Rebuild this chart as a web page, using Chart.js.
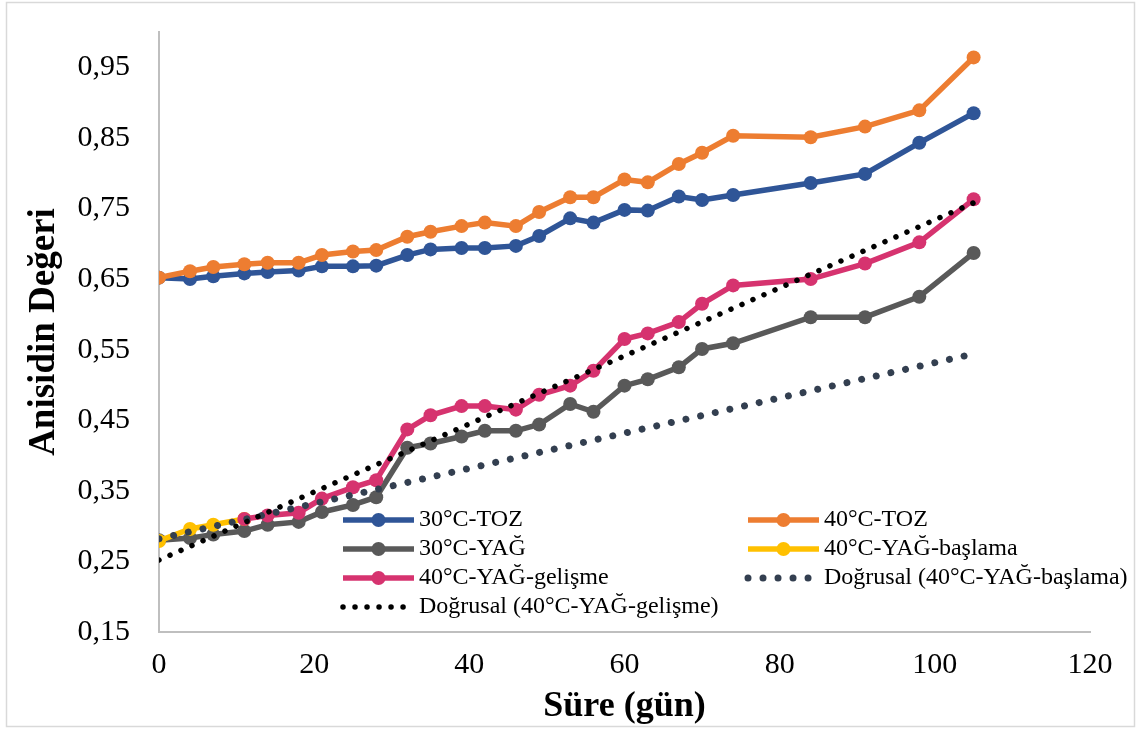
<!DOCTYPE html>
<html lang="tr">
<head>
<meta charset="utf-8">
<title>Anisidin Değeri</title>
<script src="https://cdn.jsdelivr.net/npm/chart.js@4.4.0/dist/chart.umd.min.js"></script>
<style>
  html, body { margin: 0; padding: 0; background: #fff; }
  #wrap { position: relative; width: 1140px; height: 729px; }
</style>
</head>
<body>
<div id="wrap"><canvas id="anisidinChart"></canvas></div>
<script>
// Depolama süresi (gün)
var gunler = [0, 4, 7, 11, 14, 18, 21, 25, 28, 32, 35, 39, 42, 46, 49, 53, 56, 60, 63, 67, 70, 74, 84, 91, 98, 105];

var toz30 = [0.652, 0.650, 0.654, 0.658, 0.660, 0.662, 0.668, 0.668, 0.669, 0.684, 0.692, 0.694, 0.694,
             0.697, 0.711, 0.736, 0.730, 0.748, 0.747, 0.767, 0.762, 0.769, 0.786, 0.799, 0.843, 0.885];
var toz40 = [0.652, 0.661, 0.667, 0.671, 0.673, 0.673, 0.684, 0.689, 0.691, 0.710, 0.717, 0.725, 0.730,
             0.725, 0.745, 0.766, 0.766, 0.791, 0.787, 0.813, 0.829, 0.853, 0.851, 0.866, 0.889, 0.964];
var yag30 = [0.280, 0.283, 0.288, 0.293, 0.302, 0.306, 0.320, 0.330, 0.341, 0.411, 0.417, 0.427, 0.435,
             0.435, 0.444, 0.473, 0.462, 0.499, 0.508, 0.525, 0.551, 0.559, 0.596, 0.596, 0.625, 0.687];

// 40°C yağ: başlama ve gelişme evreleri
var baslamaGun = [0, 4, 7, 11];
var yagBaslama40 = [0.279, 0.296, 0.302, 0.310];
var gelismeGun = [11, 14, 18, 21, 25, 28, 32, 35, 39, 42, 46, 49, 53, 56, 60, 63, 67, 70, 74, 84, 91, 98, 105];
var yagGelisme40 = [0.310, 0.315, 0.319, 0.339, 0.355, 0.365, 0.437, 0.457, 0.470, 0.470, 0.465, 0.486,
                    0.499, 0.520, 0.565, 0.573, 0.589, 0.615, 0.641, 0.650, 0.672, 0.702, 0.763];

// Doğrusal eğilim çizgileri (uç noktalar)
var trendGun = [0, 105];
var trendBaslama = [0.282, 0.544];
var trendGelisme = [0.252, 0.758];

var xTicks = [0, 20, 40, 60, 80, 100, 120];
var yTicks = [0.15, 0.25, 0.35, 0.45, 0.55, 0.65, 0.75, 0.85, 0.95];

function noktalar(xs, ys) {
    return xs.map(function (x, i) { return { x: x, y: ys[i] }; });
}

function seri(label, xs, ys, color, order) {
    return {
        label: label,
        data: noktalar(xs, ys),
        borderColor: color,
        backgroundColor: color,
        pointBackgroundColor: color,
        pointBorderColor: color,
        borderWidth: 5.5,
        pointRadius: 7,
        pointBorderWidth: 0,
        tension: 0,
        order: order
    };
}

function egilim(label, ys, color, width, gap, order) {
    return {
        label: label,
        data: noktalar(trendGun, ys),
        borderColor: color,
        borderWidth: width,
        borderDash: [0.01, gap],
        borderCapStyle: 'round',
        pointRadius: 0,
        tension: 0,
        order: order
    };
}

var serifFont = '"Liberation Serif", "Times New Roman", serif';

// Excel tarzı iki sütunlu açıklama
var excelLegend = {
    id: 'excelLegend',
    afterDraw: function (chart) {
        var ctx = chart.ctx;
        var colX = [343, 748];
        var rowY = [520, 549, 578, 607];
        var sampleW = 71;
        ctx.save();
        ctx.font = '24px ' + serifFont;
        ctx.textBaseline = 'middle';
        chart.data.datasets.forEach(function (ds, i) {
            var x = colX[i % 2], y = rowY[Math.floor(i / 2)];
            ctx.strokeStyle = ds.borderColor;
            ctx.lineWidth = ds.borderWidth;
            ctx.lineCap = ds.borderDash ? 'round' : 'butt';
            ctx.setLineDash(ds.borderDash || []);
            ctx.beginPath();
            ctx.moveTo(x, y);
            ctx.lineTo(x + sampleW, y);
            ctx.stroke();
            ctx.setLineDash([]);
            if (ds.pointRadius) {
                ctx.fillStyle = ds.borderColor;
                ctx.beginPath();
                ctx.arc(x + sampleW / 2, y, ds.pointRadius, 0, Math.PI * 2);
                ctx.fill();
            }
            ctx.fillStyle = '#000';
            ctx.fillText(ds.label, x + sampleW + 5, y);
        });
        ctx.restore();
    }
};

var pageFrame = {
    id: 'pageFrame',
    beforeDraw: function (chart) {
        var ctx = chart.ctx;
        ctx.save();
        ctx.fillStyle = '#fff';
        ctx.fillRect(0, 0, chart.width, chart.height);
        ctx.strokeStyle = '#d9d9d9';
        ctx.lineWidth = 1.5;
        ctx.strokeRect(6.5, 2.5, 1128, 724);
        ctx.restore();
    }
};

var ctx = document.getElementById('anisidinChart').getContext('2d');
var anisidinChart = new Chart(ctx, {
    type: 'line',
    data: {
        datasets: [
            seri('30°C-TOZ', gunler, toz30, '#2F5597', 7),
            seri('40°C-TOZ', gunler, toz40, '#ED7D31', 6),
            seri('30°C-YAĞ', gunler, yag30, '#595959', 5),
            seri('40°C-YAĞ-başlama', baslamaGun, yagBaslama40, '#FFC000', 4),
            seri('40°C-YAĞ-gelişme', gelismeGun, yagGelisme40, '#D6336F', 3),
            egilim('Doğrusal (40°C-YAĞ-başlama)', trendBaslama, '#333F50', 7, 15, 2),
            egilim('Doğrusal (40°C-YAĞ-gelişme)', trendGelisme, '#000000', 5.5, 12, 1)
        ]
    },
    options: {
        responsive: true,
        maintainAspectRatio: false,
        animation: false,
        layout: { padding: { top: 32, right: 50, bottom: 0, left: 0 } },
        plugins: {
            legend: { display: false },
            tooltip: { enabled: false }
        },
        scales: {
            x: {
                type: 'linear',
                min: 0,
                max: 120,
                afterBuildTicks: function (scale) {
                    scale.ticks = xTicks.map(function (v) { return { value: v }; });
                },
                afterFit: function (scale) {
                    scale.height = 97;
                    scale.paddingLeft = 0;
                    scale.paddingRight = 0;
                },
                grid: { display: false, drawTicks: false },
                border: { color: '#bfbfbf', width: 2 },
                ticks: {
                    color: '#000',
                    padding: 15,
                    maxRotation: 0,
                    font: { family: serifFont, size: 30 }
                },
                title: {
                    display: true,
                    text: 'Süre (gün)',
                    color: '#000',
                    padding: { top: 0, bottom: 1 },
                    font: { family: serifFont, size: 36, weight: 'bold' }
                }
            },
            y: {
                min: 0.15,
                max: 1.0,
                afterBuildTicks: function (scale) {
                    scale.ticks = yTicks.map(function (v) { return { value: v }; });
                },
                afterFit: function (scale) {
                    scale.width = 159;
                    scale.paddingTop = 0;
                    scale.paddingBottom = 0;
                },
                grid: { display: false, drawTicks: false },
                border: { color: '#bfbfbf', width: 2 },
                ticks: {
                    color: '#000',
                    padding: 29,
                    font: { family: serifFont, size: 30 },
                    callback: function (v) { return v.toFixed(2).replace('.', ','); }
                },
                title: {
                    display: true,
                    text: 'Anisidin Değeri',
                    color: '#000',
                    padding: { top: 22, bottom: 0 },
                    font: { family: serifFont, size: 37, weight: 'bold' }
                }
            }
        }
    },
    plugins: [pageFrame, excelLegend]
});
</script>
</body>
</html>
